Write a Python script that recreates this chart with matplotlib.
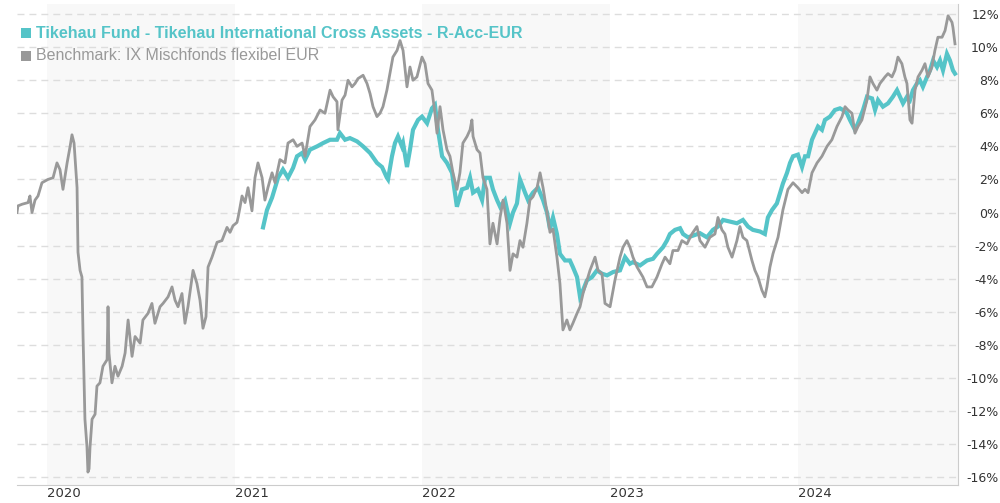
import matplotlib
matplotlib.use("Agg")
import matplotlib.pyplot as plt
from matplotlib.patches import Rectangle

# Wertentwicklung in % (Zeit als Dezimaljahr)
bench_t = [2019.840, 2019.845, 2019.867, 2019.899, 2019.909, 2019.920, 2019.936, 2019.952, 2019.973, 2020.005,
           2020.032, 2020.053, 2020.069, 2020.085, 2020.107, 2020.123, 2020.133, 2020.144, 2020.160, 2020.165,
           2020.176, 2020.186, 2020.192, 2020.202, 2020.213, 2020.218, 2020.224, 2020.229, 2020.240, 2020.256,
           2020.266, 2020.282, 2020.298, 2020.320, 2020.325, 2020.330, 2020.346, 2020.362, 2020.378, 2020.400,
           2020.416, 2020.432, 2020.453, 2020.469, 2020.496, 2020.511, 2020.538, 2020.559, 2020.575, 2020.602,
           2020.618, 2020.645, 2020.666, 2020.682, 2020.698, 2020.719, 2020.735, 2020.751, 2020.778, 2020.799,
           2020.815, 2020.831, 2020.847, 2020.858, 2020.879, 2020.906, 2020.932, 2020.959, 2020.975, 2020.991,
           2021.012, 2021.018, 2021.028, 2021.039, 2021.055, 2021.071, 2021.092, 2021.108, 2021.124, 2021.146,
           2021.161, 2021.177, 2021.199, 2021.215, 2021.241, 2021.268, 2021.284, 2021.311, 2021.332, 2021.359,
           2021.375, 2021.401, 2021.428, 2021.455, 2021.481, 2021.508, 2021.524, 2021.545, 2021.550, 2021.572,
           2021.588, 2021.604, 2021.625, 2021.641, 2021.657, 2021.684, 2021.705, 2021.721, 2021.737, 2021.758,
           2021.774, 2021.790, 2021.811, 2021.827, 2021.843, 2021.865, 2021.881, 2021.897, 2021.918, 2021.934,
           2021.950, 2021.971, 2021.998, 2022.014, 2022.030, 2022.051, 2022.067, 2022.078, 2022.094, 2022.110,
           2022.131, 2022.147, 2022.163, 2022.184, 2022.200, 2022.216, 2022.238, 2022.254, 2022.264, 2022.270,
           2022.291, 2022.307, 2022.323, 2022.344, 2022.360, 2022.376, 2022.398, 2022.414, 2022.430, 2022.451,
           2022.467, 2022.483, 2022.504, 2022.520, 2022.536, 2022.557, 2022.573, 2022.589, 2022.611, 2022.627,
           2022.643, 2022.664, 2022.680, 2022.696, 2022.717, 2022.733, 2022.749, 2022.770, 2022.786, 2022.802,
           2022.824, 2022.840, 2022.856, 2022.877, 2022.893, 2022.920, 2022.936, 2022.957, 2022.973, 2023.000,
           2023.026, 2023.053, 2023.069, 2023.090, 2023.106, 2023.122, 2023.144, 2023.175, 2023.197, 2023.223,
           2023.250, 2023.277, 2023.293, 2023.319, 2023.335, 2023.362, 2023.383, 2023.410, 2023.436, 2023.463,
           2023.479, 2023.506, 2023.532, 2023.559, 2023.575, 2023.596, 2023.612, 2023.628, 2023.650, 2023.676,
           2023.692, 2023.708, 2023.729, 2023.756, 2023.772, 2023.788, 2023.809, 2023.825, 2023.836, 2023.852,
           2023.868, 2023.895, 2023.921, 2023.948, 2023.975, 2024.001, 2024.023, 2024.039, 2024.055, 2024.076,
           2024.103, 2024.129, 2024.156, 2024.182, 2024.209, 2024.236, 2024.252, 2024.268, 2024.289, 2024.305,
           2024.321, 2024.342, 2024.369, 2024.385, 2024.401, 2024.422, 2024.438, 2024.465, 2024.481, 2024.502,
           2024.518, 2024.534, 2024.555, 2024.571, 2024.582, 2024.598, 2024.609, 2024.625, 2024.641, 2024.662,
           2024.678, 2024.694, 2024.715, 2024.731, 2024.747, 2024.769, 2024.785, 2024.801, 2024.822, 2024.827,
           2024.838]
bench_v = [0.0, 0.4, 0.5, 0.6, 1.0, 0.0, 0.75, 1.0, 1.8, 2.0,
           2.1, 3.0, 2.6, 1.4, 3.0, 4.0, 4.7, 4.2, 1.5, -2.4,
           -3.5, -3.9, -7.5, -12.5, -14.2, -15.7, -15.5, -14.2, -12.5, -12.2,
           -10.5, -10.3, -9.3, -8.9, -5.7, -8.5, -10.3, -9.3, -9.9, -9.3,
           -8.5, -6.5, -8.7, -7.5, -7.9, -6.5, -6.1, -5.5, -6.7, -5.7,
           -5.5, -5.1, -4.5, -5.3, -5.7, -4.9, -6.7, -5.7, -3.5, -4.3,
           -5.3, -7.0, -6.3, -3.3, -2.7, -1.8, -1.7, -0.9, -1.2, -0.8,
           -0.6, -0.3, 0.3, 1.0, 0.6, 1.5, 0.1, 2.1, 3.0, 2.1,
           0.75, 1.5, 2.4, 1.8, 3.2, 3.0, 4.2, 4.4, 4.0, 4.2,
           3.4, 5.2, 5.6, 6.2, 6.0, 7.4, 7.0, 6.7, 5.0, 6.8,
           7.1, 8.0, 7.6, 7.8, 8.1, 8.3, 7.8, 7.2, 6.4, 5.8,
           6.0, 6.4, 7.4, 8.4, 9.4, 9.8, 10.4, 9.8, 7.6, 8.8,
           8.0, 8.2, 9.4, 9.0, 7.8, 7.4, 6.0, 4.8, 6.4, 5.0,
           3.8, 3.4, 2.4, 1.4, 2.4, 4.2, 4.6, 5.0, 5.6, 4.6,
           3.8, 3.6, 2.1, 1.4, -1.9, -0.65, -1.9, -0.3, 0.75, -0.65,
           -3.5, -2.5, -2.7, -1.7, -2.1, -0.65, 0.75, 0.95, 1.5, 2.4,
           1.5, 0.0, -1.2, -1.0, -2.7, -4.3, -7.1, -6.5, -7.1, -6.7,
           -6.1, -5.7, -4.9, -4.1, -3.5, -2.7, -3.5, -3.7, -5.5, -5.7,
           -4.1, -2.7, -2.1, -1.7, -2.1, -2.7, -3.3, -3.9, -4.5, -4.5,
           -3.9, -3.1, -2.7, -3.1, -2.3, -2.3, -1.7, -1.9, -1.3, -0.85,
           -1.7, -2.1, -1.5, -1.3, -0.3, -1.05, -1.3, -2.1, -2.7, -1.7,
           -0.85, -1.5, -1.7, -2.9, -3.5, -3.9, -4.7, -5.1, -4.5, -3.3,
           -2.5, -1.5, 0.15, 1.4, 1.8, 1.5, 1.2, 1.4, 1.2, 2.4,
           3.0, 3.4, 4.0, 4.4, 5.2, 5.8, 6.4, 6.2, 6.0, 4.8,
           5.2, 5.6, 6.8, 8.2, 7.8, 7.4, 7.8, 8.2, 8.4, 8.2,
           8.6, 9.4, 9.0, 8.2, 7.8, 5.6, 5.4, 7.4, 8.2, 8.6,
           9.0, 8.2, 8.8, 9.8, 10.6, 10.6, 11.0, 11.9, 11.5, 11.2,
           10.2]

fund_t = [2021.151, 2021.172, 2021.199, 2021.231, 2021.257, 2021.284, 2021.311, 2021.332, 2021.359, 2021.375,
          2021.401, 2021.439, 2021.471, 2021.508, 2021.545, 2021.561, 2021.588, 2021.614, 2021.652, 2021.684,
          2021.721, 2021.758, 2021.785, 2021.811, 2021.817, 2021.838, 2021.854, 2021.870, 2021.891, 2021.897,
          2021.918, 2021.934, 2021.950, 2021.977, 2021.998, 2022.025, 2022.051, 2022.067, 2022.083, 2022.105,
          2022.131, 2022.158, 2022.184, 2022.211, 2022.238, 2022.254, 2022.270, 2022.296, 2022.318, 2022.334,
          2022.360, 2022.376, 2022.398, 2022.414, 2022.440, 2022.467, 2022.483, 2022.504, 2022.520, 2022.547,
          2022.563, 2022.589, 2022.616, 2022.643, 2022.664, 2022.680, 2022.696, 2022.717, 2022.733, 2022.760,
          2022.786, 2022.802, 2022.824, 2022.840, 2022.856, 2022.877, 2022.904, 2022.930, 2022.957, 2022.984,
          2023.016, 2023.053, 2023.080, 2023.106, 2023.122, 2023.160, 2023.197, 2023.229, 2023.250, 2023.266,
          2023.282, 2023.303, 2023.319, 2023.346, 2023.373, 2023.389, 2023.415, 2023.442, 2023.479, 2023.516,
          2023.548, 2023.575, 2023.602, 2023.639, 2023.676, 2023.708, 2023.735, 2023.761, 2023.799, 2023.825,
          2023.841, 2023.863, 2023.889, 2023.905, 2023.921, 2023.943, 2023.959, 2023.975, 2024.001, 2024.023,
          2024.039, 2024.055, 2024.076, 2024.092, 2024.108, 2024.129, 2024.145, 2024.172, 2024.198, 2024.225,
          2024.241, 2024.262, 2024.278, 2024.305, 2024.321, 2024.348, 2024.369, 2024.396, 2024.412, 2024.428,
          2024.454, 2024.481, 2024.507, 2024.529, 2024.545, 2024.561, 2024.582, 2024.598, 2024.614, 2024.635,
          2024.651, 2024.667, 2024.689, 2024.705, 2024.721, 2024.742, 2024.758, 2024.774, 2024.795, 2024.811,
          2024.827, 2024.838]
fund_v = [-0.9, 0.15, 0.9, 2.1, 2.6, 2.1, 2.7, 3.4, 3.6, 3.2,
          3.8, 4.0, 4.2, 4.4, 4.4, 4.8, 4.4, 4.5, 4.3, 4.0,
          3.6, 3.0, 2.75, 2.1, 2.0, 3.4, 4.2, 4.6, 4.0, 4.2,
          2.75, 3.8, 5.0, 5.6, 5.8, 5.4, 6.3, 6.5, 5.0, 3.4,
          3.0, 2.4, 0.35, 1.4, 1.5, 2.1, 1.2, 1.4, 0.75, 2.1,
          2.1, 1.4, 0.75, 0.35, 0.75, -0.65, 0.0, 0.55, 2.0, 1.2,
          0.75, 1.2, 1.5, 0.75, 0.0, -1.0, -0.3, -1.3, -2.5, -2.9,
          -2.9, -3.3, -3.9, -5.1, -4.7, -4.1, -3.9, -3.5, -3.7, -3.8,
          -3.6, -3.5, -2.7, -3.1, -3.0, -3.2, -2.9, -2.8, -2.5, -2.3,
          -2.1, -1.7, -1.3, -1.05, -0.95, -1.3, -1.5, -1.4, -1.25, -1.5,
          -1.05, -0.85, -0.45, -0.55, -0.65, -0.45, -0.85, -1.05, -1.15, -1.3,
          -0.3, 0.15, 0.55, 1.15, 1.75, 2.4, 3.0, 3.4, 3.5, 2.75,
          3.4, 3.4, 4.4, 4.8, 5.2, 5.0, 5.6, 5.8, 6.2, 6.3,
          6.2, 6.0, 5.6, 5.0, 5.4, 6.2, 7.0, 6.9, 6.2, 6.8,
          6.4, 6.6, 7.0, 7.4, 7.0, 6.6, 7.0, 6.8, 7.4, 7.8,
          8.0, 7.6, 8.2, 8.6, 9.2, 8.8, 9.2, 8.6, 9.6, 9.2,
          8.6, 8.4]

years = [2020, 2021, 2022, 2023, 2024]
y_ticks = list(range(-16, 13, 2))
fund_label = "Tikehau Fund - Tikehau International Cross Assets - R-Acc-EUR"
bench_label = "Benchmark: IX Mischfonds flexibel EUR"

TEAL = "#55c4c8"
GREY = "#999999"
x_min, x_max = 2019.84, 2024.854
y_min, y_max = -16.48, 12.61

W, H = 1000, 503
fig = plt.figure(figsize=(W / 100, H / 100), dpi=100)
ax = fig.add_axes([0.017, 18 / H, 0.941, 481 / H])
ax.set_xlim(x_min, x_max)
ax.set_ylim(y_min, y_max)

# abwechselnd hinterlegte Jahre
for i, yr in enumerate(years):
    if i % 2 == 0:
        ax.axvspan(yr, min(yr + 1, x_max), color="#f8f8f8", lw=0, zorder=0)

for v in y_ticks:
    ax.axhline(v, color="#dddddd", lw=1, dashes=(5, 3.6), zorder=1)

ax.plot(fund_t, fund_v, color=TEAL, lw=3.0, zorder=3, solid_joinstyle="miter")
ax.plot(bench_t, bench_v, color=GREY, lw=2.0, zorder=4)

for s in ["top", "left"]:
    ax.spines[s].set_visible(False)
ax.spines["right"].set_color("#cccccc")
ax.spines["bottom"].set_color("#cccccc")

ax.yaxis.tick_right()
ax.set_yticks(y_ticks)
ax.set_yticklabels([f"{v}%" for v in y_ticks])
ax.tick_params(axis="y", length=0, pad=29.5, labelsize=9, labelcolor="#333333")
for lab in ax.get_yticklabels():
    lab.set_horizontalalignment("right")

ax.set_xticks(years)
ax.set_xticklabels([str(y) for y in years])
ax.tick_params(axis="x", length=0, pad=1.5, labelsize=9.5, labelcolor="#333333")
for lab in ax.get_xticklabels():
    lab.set_horizontalalignment("left")

# Legende oben links
for row, (label, col, weight) in enumerate([(fund_label, TEAL, "bold"), (bench_label, GREY, "normal")]):
    yc = 33 + row * 23
    fig.add_artist(Rectangle((21 / W, 1 - (yc + 5) / H), 10 / W, 10 / H,
                             transform=fig.transFigure, color=col, lw=0))
    fig.text(36 / W, 1 - yc / H, label, color=col, fontsize=11.5, fontweight=weight,
             va="center", family="Liberation Sans")

fig.savefig("out.png", dpi=100)
